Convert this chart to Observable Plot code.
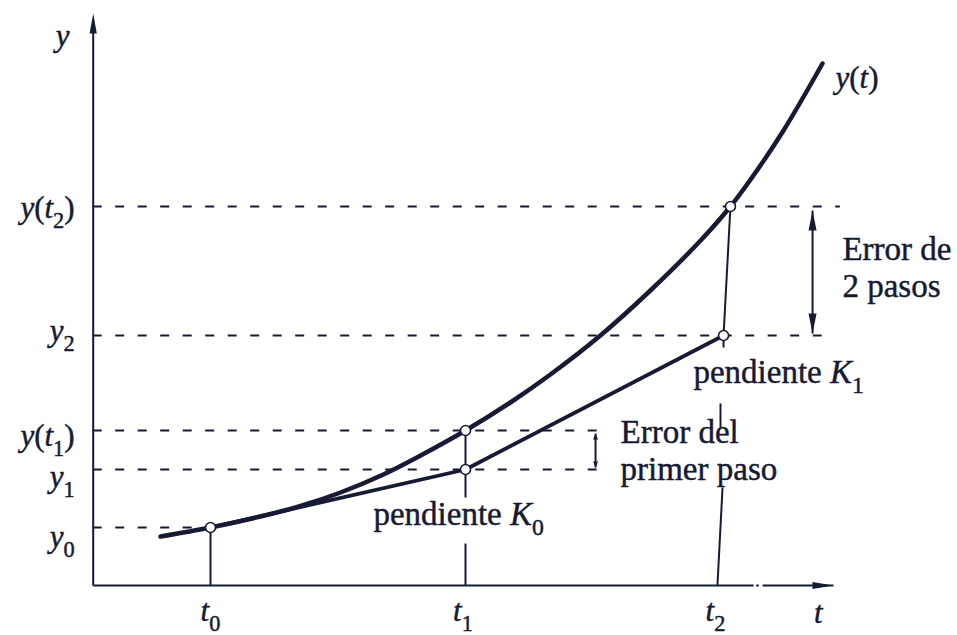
<!DOCTYPE html>
<html><head><meta charset="utf-8">
<script src="https://cdn.jsdelivr.net/npm/d3@7"></script>
<script src="https://cdn.jsdelivr.net/npm/@observablehq/plot@0.6"></script>
<style>
body{margin:0;background:#fff;}
#chart svg{display:block;}
</style></head><body><div id="chart"></div>
<script>
const INK = "#161a33";
const SERIF = "Liberation Serif, Times New Roman, serif";

// abscissae t0, t1, t2
const tNames = ["*t*_0", "*t*_1", "*t*_2"];
const tValues = [0, 1, 2];
const tLabelT = [0, 0.99, 1.98];

// exact solution y(t)
const curveT = [-0.196, 0, 0.196, 0.353, 0.510, 0.678, 0.824, 1.0, 1.176, 1.333, 1.529, 1.725, 1.922, 2.039, 2.118, 2.247, 2.4];
const curveY = [0.49, 0.58, 0.69, 0.795, 0.93, 1.11, 1.30, 1.55, 1.83, 2.11, 2.50, 2.95, 3.45, 3.79, 4.06, 4.55, 5.22];

// Euler steps (slope K0, slope K1)
const eulerT = [0, 1, 2.012];
const eulerY = [0.58, 1.16, 2.50];

// exact values at t1, t2
const exactT = [1, 2.039];
const exactY = [1.55, 3.79];

// y levels
const levelNames = ["*y*_0", "*y*_1", "*y*(*t*_1)", "*y*_2", "*y*(*t*_2)"];
const levelY = [0.58, 1.16, 1.55, 2.50, 3.79];
const levelEnd = [0, 1.537, 1.537, 2.45, 2.47];
const levelLabelY = [0.48, 1.08, 1.49, 2.54, 3.77];

// axes
const axisT = -0.46, axisTop = 5.72, axisRight = 2.443;
const xAxisT1 = [axisT, 2.14, 2.165];
const xAxisT2 = [2.13, 2.15, axisRight];

// vertical guide segments
const segT1 = [0, 1, 1, 1, 2.039, 2.012, 2.0, 2.008];
const segY1 = [0.58, 1.55, 1.16, 0.42, 3.79, 2.50, 1.82, 0.98];
const segT2 = [0, 1, 1, 1, 2.012, 2.012, 2.0, 1.988];
const segY2 = [0, 1.16, 0.88, 0, 2.50, 2.38, 1.58, 0];

// error arrows
const errT = [2.361, 1.51];
const errLo = [2.52, 1.18];
const errHi = [3.75, 1.52];

// annotations
const axisNames = ["*y*", "*t*"];
const axisNameT = [-0.58, 2.384];
const axisNameY = [5.49, -0.28];
const curveName = ["*y*(*t*)"];
const curveNameT = [2.451];
const curveNameY = [5.07];
const noteText = ["pendiente *K*_0", "pendiente *K*_1", "Error del", "primer paso", "Error de", "2 pasos"];
const noteT = [0.639, 1.894, 1.608, 1.608, 2.478, 2.478];
const noteY = [0.706, 2.126, 1.526, 1.156, 3.356, 2.986];

function head(L, w) {
  return {draw(ctx) { ctx.moveTo(0, 0); ctx.lineTo(-w, L); ctx.lineTo(w, L); ctx.closePath(); }};
}
const idx = n => d3.range(n);
const txt = {fontFamily: SERIF, fill: INK, stroke: INK, strokeWidth: 0.45};

const plot = Plot.plot({
  width: 957, height: 635,
  marginLeft: 82.5, marginRight: 109.5, marginTop: 0, marginBottom: 50,
  x: {domain: [-0.5, 2.5], axis: null},
  y: {domain: [0, 5.85], axis: null},
  style: {background: "#fff", overflow: "visible"},
  marks: [
    Plot.ruleY(idx(levelY.length), {y: i => levelY[i], x1: () => axisT, x2: i => levelEnd[i], stroke: INK, strokeWidth: 2.2, strokeDasharray: "9,13.5"}),
    Plot.link(idx(segT1.length), {x1: i => segT1[i], y1: i => segY1[i], x2: i => segT2[i], y2: i => segY2[i], stroke: INK, strokeWidth: 2}),
    Plot.link([0], {x1: () => axisT, y1: () => 0, x2: () => axisT, y2: () => axisTop - 0.1, stroke: INK, strokeWidth: 2}),
    Plot.link(idx(3), {x1: i => xAxisT1[i], y1: () => 0, x2: i => xAxisT2[i], y2: () => 0, stroke: INK, strokeWidth: 2}),
    Plot.link(idx(2), {x1: i => errT[i], y1: i => errLo[i], x2: i => errT[i], y2: i => errHi[i], stroke: INK, strokeWidth: 2}),
    Plot.line(idx(curveT.length), {x: i => curveT[i], y: i => curveY[i], curve: "catmull-rom", stroke: INK, strokeWidth: 4.5}),
    Plot.line(idx(eulerT.length), {x: i => eulerT[i], y: i => eulerY[i], stroke: INK, strokeWidth: 3.8}),
    // arrow heads
    Plot.dot([0], {x: () => axisT, y: () => axisTop, symbol: head(20, 3.6), fill: INK, stroke: "none"}),
    Plot.dot([0], {x: () => axisRight, y: () => 0, symbol: head(21, 3.6), rotate: 90, fill: INK, stroke: "none"}),
    Plot.dot([0], {x: () => errT[0], y: () => errHi[0], symbol: head(20, 4), fill: INK, stroke: "none"}),
    Plot.dot([0], {x: () => errT[0], y: () => errLo[0], symbol: head(20, 4), rotate: 180, fill: INK, stroke: "none"}),
    Plot.dot([0], {x: () => errT[1], y: () => errHi[1], symbol: head(6, 2.5), fill: INK, stroke: "none"}),
    Plot.dot([0], {x: () => errT[1], y: () => errLo[1], symbol: head(6, 2.5), rotate: 180, fill: INK, stroke: "none"}),
    // points
    Plot.dot(idx(eulerT.length), {x: i => eulerT[i], y: i => eulerY[i], r: 5, fill: "#fff", stroke: INK, strokeWidth: 1.6}),
    Plot.dot(idx(exactT.length), {x: i => exactT[i], y: i => exactY[i], r: 5, fill: "#fff", stroke: INK, strokeWidth: 1.6}),
    // labels
    Plot.text(idx(levelNames.length), {...txt, x: () => -0.533, y: i => levelLabelY[i], text: i => levelNames[i], textAnchor: "end", fontSize: 31}),
    Plot.text(idx(tNames.length), {...txt, x: i => tLabelT[i], y: () => -0.26, text: i => tNames[i], textAnchor: "middle", fontSize: 31}),
    Plot.text(idx(axisNames.length), {...txt, x: i => axisNameT[i], y: i => axisNameY[i], text: i => axisNames[i], textAnchor: "middle", fontSize: 31}),
    Plot.text(idx(curveName.length), {...txt, x: i => curveNameT[i], y: i => curveNameY[i], text: i => curveName[i], textAnchor: "start", fontSize: 31}),
    Plot.text(idx(noteText.length), {...txt, x: i => noteT[i], y: i => noteY[i], text: i => noteText[i], textAnchor: "start", fontSize: 33})
  ]
});
document.getElementById("chart").appendChild(plot);

// turn *x* into italic and _d into subscripts
d3.select(plot).selectAll("text").each(function() {
  const el = this;
  const raw = el.textContent;
  if (!/[*_]/.test(raw)) return;
  const fs = parseFloat(getComputedStyle(el).fontSize) || 31;
  const parts = [];
  let italic = false, buf = "";
  for (let i = 0; i < raw.length; i++) {
    const c = raw[i];
    if (c === "*") { if (buf) parts.push({s: buf, it: italic, sub: false}); buf = ""; italic = !italic; }
    else if (c === "_") { if (buf) parts.push({s: buf, it: italic, sub: false}); buf = ""; parts.push({s: raw[i + 1], it: false, sub: true}); i++; }
    else buf += c;
  }
  if (buf) parts.push({s: buf, it: italic, sub: false});
  el.textContent = "";
  let shift = 0;
  const sel = d3.select(el);
  for (const p of parts) {
    const ts = sel.append("tspan").text(p.s);
    if (p.it) ts.attr("font-style", "italic");
    if (p.sub) { ts.attr("font-size", fs * 0.72).attr("dy", fs * 0.3 - shift); shift = fs * 0.3; }
    else if (shift) { ts.attr("dy", -shift); shift = 0; }
  }
});
</script>
</body></html>
